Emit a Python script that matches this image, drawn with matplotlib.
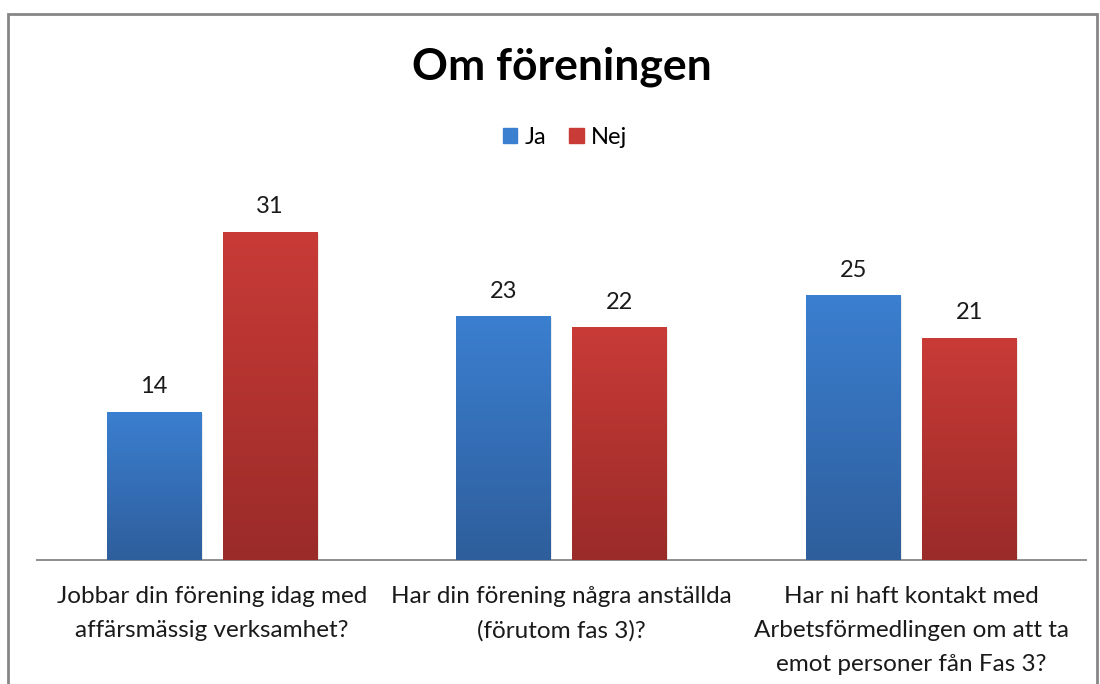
import numpy as np
import matplotlib
matplotlib.use("Agg")
import matplotlib.pyplot as plt
from matplotlib.colors import LinearSegmentedColormap
from matplotlib.patches import Rectangle

categories = [
    "Jobbar din förening idag med\naffärsmässig verksamhet?",
    "Har din förening några anställda\n(förutom fas 3)?",
    "Har ni haft kontakt med\nArbetsförmedlingen om att ta\nemot personer fån Fas 3?",
]
series_names = ["Ja", "Nej"]
ja = [14, 23, 25]
nej = [31, 22, 21]

plt.rcParams["font.family"] = ["Lato", "DejaVu Sans"]

# top / bottom colours of the bar gradients
grad = {
    "Ja": ("#3b7fd0", "#2e5e9c"),
    "Nej": ("#c93b37", "#9a2b29"),
}


def main():
    fig = plt.figure(figsize=(11, 6.84), dpi=100)
    ax = fig.add_axes([37 / 1100, 1 - 560 / 684, 1049 / 1100, 370 / 684])

    x = np.arange(len(categories))
    width = 0.27
    offsets = [-0.166, 0.166]

    for name, vals, off in zip(series_names, [ja, nej], offsets):
        top, bottom = grad[name]
        cmap = LinearSegmentedColormap.from_list(name, [bottom, top])
        bars = ax.bar(x + off, vals, width, color=top, label=name, zorder=2)
        for b in bars:
            x0, y0 = b.get_x(), b.get_y()
            w, h = b.get_width(), b.get_height()
            # soft shadow
            ax.add_patch(Rectangle((x0 + 0.005, y0), w, h - 0.15,
                                   color="black", alpha=0.08, zorder=1,
                                   linewidth=0))
            g = np.linspace(0, 1, 256).reshape(-1, 1)
            ax.imshow(g, cmap=cmap, origin="lower", aspect="auto",
                      extent=(x0, x0 + w, y0, y0 + h), zorder=3)
            ax.text(x0 + w / 2, h + 1.4, str(int(h)), ha="center",
                    va="bottom", fontsize=17, color="#1a1a1a")

    ax.set_xlim(-0.5, 2.5)
    ax.set_ylim(0, 35)
    ax.set_yticks([])
    ax.set_xticks(x)
    ax.set_xticklabels(categories, fontsize=17.5, linespacing=1.75,
                       color="#1a1a1a")
    ax.tick_params(axis="x", length=0, pad=19)
    for s in ["top", "right", "left"]:
        ax.spines[s].set_visible(False)
    ax.spines["bottom"].set_color("#868686")
    ax.spines["bottom"].set_linewidth(1.3)

    fig.text(562 / 1100, 1 - 67 / 684, "Om föreningen", ha="center",
             va="center", fontsize=32, fontweight="bold")

    leg = fig.legend(loc="center", bbox_to_anchor=(565 / 1100, 1 - 137 / 684),
                     ncol=2, frameon=False, fontsize=17, handlelength=0.6,
                     handleheight=0.6, handletextpad=0.3, columnspacing=1.0)
    for h, name in zip(leg.legend_handles, series_names):
        h.set_color(grad[name][0])

    fig.patches.append(Rectangle((8 / 1100, -0.05), 1089 / 1100,
                                 1.05 - 14 / 684, transform=fig.transFigure,
                                 fill=False, edgecolor="#868686",
                                 linewidth=2))

    fig.savefig("out.png", dpi=100, facecolor="white")


if __name__ == "__main__":
    main()
